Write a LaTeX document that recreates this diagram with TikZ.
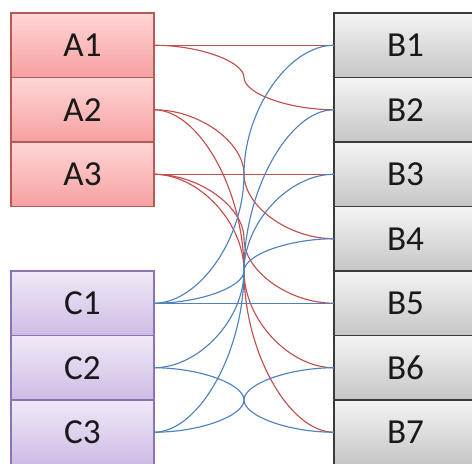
\documentclass[tikz,border=0pt]{standalone}
\usepackage{fontspec}
\setmainfont{Carlito}
\usetikzlibrary{calc, positioning}

\definecolor{aTop}{HTML}{FFD6D6}
\definecolor{aBot}{HTML}{F7A0A0}
\definecolor{aLine}{HTML}{B65A57}
\definecolor{cTop}{HTML}{F0E9F8}
\definecolor{cBot}{HTML}{CDBCE4}
\definecolor{cLine}{HTML}{8C73B3}
\definecolor{bTop}{HTML}{F4F4F4}
\definecolor{bBot}{HTML}{C6C6C6}
\definecolor{bLine}{HTML}{3A3A3A}
\definecolor{linkRed}{HTML}{C0504D}
\definecolor{linkBlue}{HTML}{4F81BD}

% curved connector: horizontal at both ends, vertical in the middle
\newcommand{\curvelink}[3]{%
    \draw[#1] let \p1=(#2.east), \p2=(#3.west) in
        (\p1) .. controls ({(3*\x1+\x2)/4},\y1) and ({(\x1+\x2)/2},{(3*\y1+\y2)/4})
        .. ({(\x1+\x2)/2},{(\y1+\y2)/2})
        .. controls ({(\x1+\x2)/2},{(\y1+3*\y2)/4}) and ({(\x1+3*\x2)/4},\y2) .. (\p2);%
}

\begin{document}
\begin{tikzpicture}[
    box/.style={draw, line width=0.7pt, outer sep=0pt, inner sep=0pt,
        minimum width=2.86cm, minimum height=1.29cm,
        font=\fontsize{20}{24}\selectfont, text=black!90},
    abox/.style={box, draw=aLine, top color=aTop, bottom color=aBot},
    bbox/.style={box, draw=bLine, top color=bTop, bottom color=bBot},
    cbox/.style={box, draw=cLine, top color=cTop, bottom color=cBot},
    redlink/.style={linkRed, line width=0.65pt},
    bluelink/.style={linkBlue, line width=0.65pt}
]

% Page size
\useasboundingbox (0,0) rectangle (9.44,-9.28);

% Right column
\node[bbox] (b1) at (8.11,-0.905) {B1};
\node[bbox, below=0pt of b1] (b2) {B2};
\node[bbox, below=0pt of b2] (b3) {B3};
\node[bbox, below=0pt of b3] (b4) {B4};
\node[bbox, below=0pt of b4] (b5) {B5};
\node[bbox, below=0pt of b5] (b6) {B6};
\node[bbox, below=0pt of b6] (b7) {B7};

% Left column, top group
\node[abox, left=3.6cm of b1] (a1) {A1};
\node[abox, below=0pt of a1] (a2) {A2};
\node[abox, below=0pt of a2] (a3) {A3};

% Left column, bottom group
\node[cbox, left=3.6cm of b5] (c1) {C1};
\node[cbox, below=0pt of c1] (c2) {C2};
\node[cbox, below=0pt of c2] (c3) {C3};

% Red links
\curvelink{redlink}{a1}{b1}
\curvelink{redlink}{a1}{b2}
\curvelink{redlink}{a2}{b4}
\curvelink{redlink}{a2}{b7}
\curvelink{redlink}{a3}{b3}
\curvelink{redlink}{a3}{b5}
\curvelink{redlink}{a3}{b6}

% Blue links
\curvelink{bluelink}{c1}{b1}
\curvelink{bluelink}{c1}{b4}
\curvelink{bluelink}{c1}{b5}
\curvelink{bluelink}{c2}{b3}
\curvelink{bluelink}{c2}{b7}
\curvelink{bluelink}{c3}{b2}
\curvelink{bluelink}{c3}{b6}

\end{tikzpicture}
\end{document}
